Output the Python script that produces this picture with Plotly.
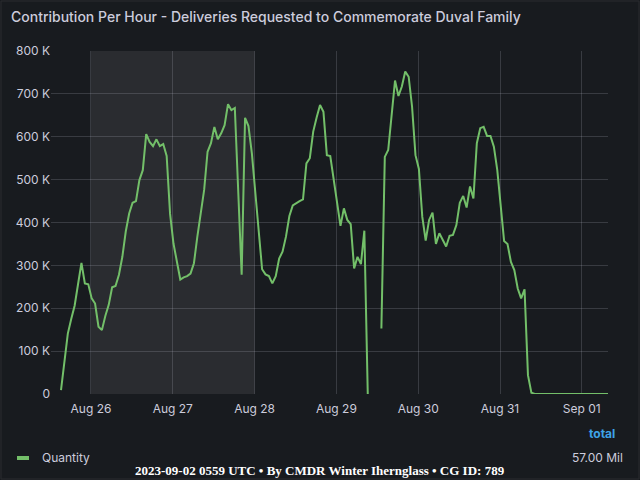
import pandas as pd
import plotly.graph_objects as go

# hourly contribution, starting 2023-08-25 15:12 (values in thousands, None = no data)
start_time = "2023-08-25 15:12"
quantity_k = [
    9, 75, 141, 175, 206, 256, 306, 258, 256,
    223, 211, 157, 149, 182, 208, 249, 252, 278, 320, 379, 421, 446, 450,
    499, 522, 606, 588, 578, 594, 578, 583, 555, 420,
    351, 310, 267, 272, 275, 281, 305, 367, 421, 476, 565, 585,
    623, 594, 608, 627, 676, 662, 667, 470, 278, 644, 625, 561,
    468, 367, 291, 279, 275, 258, 275, 316, 332, 367, 415, 440,
    446, 450, 454, 538, 550, 612, 645, 674, 658, 557, 555, 499,
    445, 392, 433, 406, 396, 293, 320, 303, 381, 0, None, None,
    None, 153, 553, 569, 655, 731, 695, 717, 752, 740, 670, 557,
    525, 413, 358, 406, 423, 350, 375, 359, 344, 369, 371, 394,
    446, 462, 435, 484, 456, 585, 620, 623, 602, 602, 577, 522,
    437, 357, 350, 308, 289, 246, 223, 244, 44, 3, 0, 0,
    0, 0, 0, 0, 0, 0, 0, 0, 0, 0, 0, 0,
    0, 0, 0, 0, 0, 0, 0, 0, 0, 0,
]
y_ticks = [0, 100000, 200000, 300000, 400000, 500000, 600000, 700000, 800000]
y_labels = ["0", "100 K", "200 K", "300 K", "400 K", "500 K", "600 K", "700 K", "800 K"]
band = ["2023-08-26", "2023-08-28"]
x_range = ["2023-08-25 12:16", "2023-09-01 07:41"]
total_text = "57.00 Mil"
footer = "2023-09-02 0559 UTC • By CMDR Winter Ihernglass • CG ID: 789"

times = pd.date_range(start_time, periods=len(quantity_k), freq="h")
values = [v * 1000 if v is not None else None for v in quantity_k]

bg = "#181b1f"
txt = "#ccccdc"
grid = "rgba(204,204,220,0.18)"

fig = go.Figure()
fig.add_trace(go.Scatter(
    x=times, y=values, mode="lines", name="Quantity",
    line=dict(color="#73bf69", width=2),
    connectgaps=False, showlegend=False,
))

# shaded time region
fig.add_shape(type="rect", xref="x", yref="paper",
              x0=band[0], x1=band[1], y0=0, y1=1,
              fillcolor="rgba(255,255,255,0.08)", line_width=0, layer="below")

# panel border
fig.add_shape(type="rect", xref="paper", yref="paper",
              x0=(1 - 51) / 557, x1=(639 - 51) / 557,
              y0=(394 - 479) / 343, y1=(394 - 1) / 343,
              line=dict(color="#2a2c30", width=1), fillcolor="rgba(0,0,0,0)")

# legend swatch
fig.add_shape(type="line", xref="paper", yref="paper",
              x0=(17 - 51) / 557, x1=(29 - 51) / 557,
              y0=(394 - 458) / 343, y1=(394 - 458) / 343,
              line=dict(color="#73bf69", width=4))

annots = [
    dict(text="Contribution Per Hour - Deliveries Requested to Commemorate Duval Family",
         x=(9 - 51) / 557, y=(394 - 17) / 343, xanchor="left", yanchor="middle",
         font=dict(family="Inter", size=14, color=txt, weight=500)),
    dict(text="Quantity", x=(40 - 51) / 557, y=(394 - 457) / 343,
         xanchor="left", yanchor="middle",
         font=dict(family="Inter", size=12, color=txt)),
    dict(text="<b>total</b>", x=(617 - 51) / 557, y=(394 - 433) / 343,
         xanchor="right", yanchor="middle",
         font=dict(family="Inter", size=12, color="#3ea3e8")),
    dict(text=total_text, x=(625 - 51) / 557, y=(394 - 457) / 343,
         xanchor="right", yanchor="middle",
         font=dict(family="Inter", size=12, color=txt)),
    dict(text="<b>" + footer + "</b>",
         x=(320 - 51) / 557, y=(394 - 470) / 343, xanchor="center", yanchor="middle",
         font=dict(family="Liberation Serif", size=13, color="#ffffff")),
]
for a in annots:
    fig.add_annotation(xref="paper", yref="paper", showarrow=False, **a)

fig.update_layout(
    width=640, height=480,
    margin=dict(l=51, r=32, t=51, b=86),
    paper_bgcolor=bg, plot_bgcolor=bg,
    font=dict(family="Inter", size=12, color=txt),
    xaxis=dict(range=x_range, type="date", dtick=86400000, tick0="2023-08-26",
               tickformat="%b %d", showgrid=True, gridcolor=grid, gridwidth=1,
               zeroline=False, showline=False, ticks="", ticklabelstandoff=6,
               tickfont=dict(size=12, color=txt)),
    yaxis=dict(range=[0, 800000], tickvals=y_ticks, ticktext=y_labels,
               showgrid=True, gridcolor=grid, gridwidth=1, zeroline=False,
               showline=False, ticks="", tickfont=dict(size=12, color=txt)),
)

# drop the default page margin so the figure sits at the window's corner
fig.write_html("out.html", config={"displayModeBar": False},
               post_script="document.body.style.margin='0';document.body.style.background='#181b1f';")
